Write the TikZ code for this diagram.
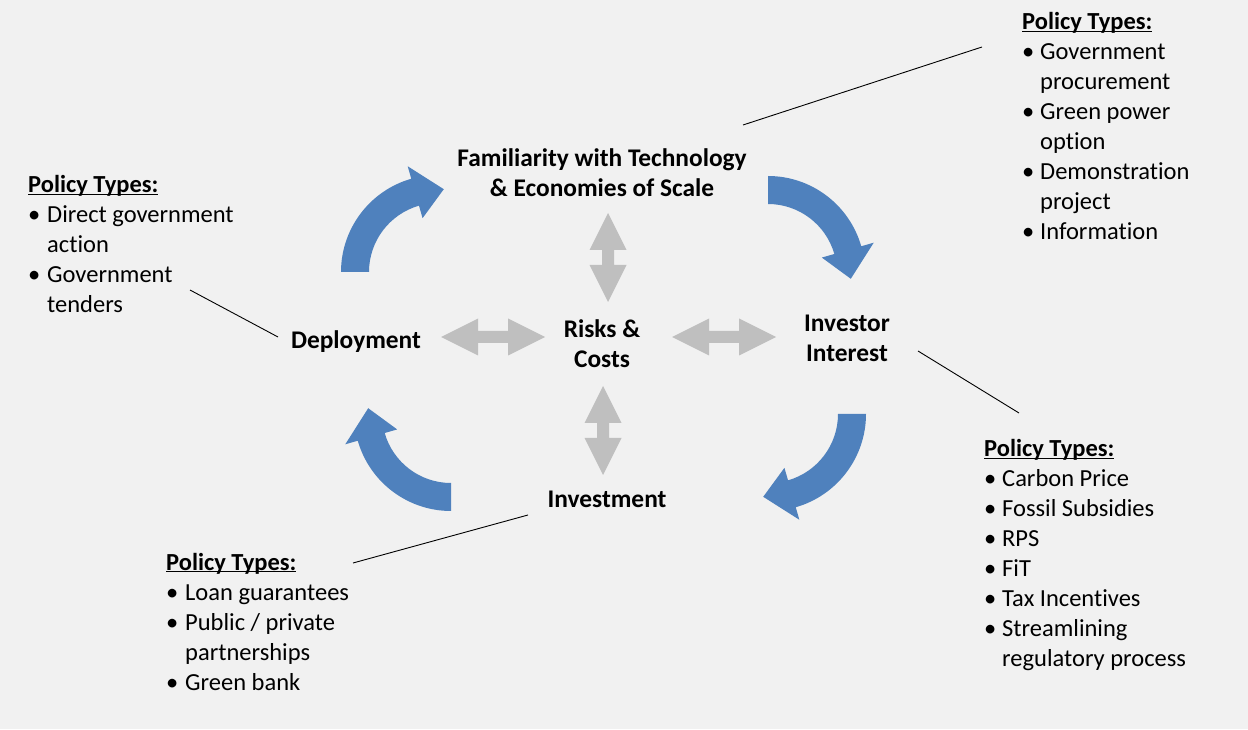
\documentclass[tikz,border=0pt]{standalone}
\usepackage{fontspec}
\setmainfont{Carlito}[Ligatures={NoCommon,NoContextual}]
\usetikzlibrary{positioning}

\definecolor{cycleblue}{HTML}{4F81BD}
\definecolor{riskgray}{HTML}{BFBFBF}
\definecolor{paper}{HTML}{F1F1F1}

\newcommand{\policyhead}{\multicolumn{2}{@{}l@{}}{\bfseries\underline{\smash{Policy Types:}}}}

\tikzset{
  stage/.style={font=\fontsize{25.4}{30}\selectfont\bfseries, align=center, inner sep=0pt, anchor=base},
  policy/.style={inner sep=0pt, anchor=base west},
  link/.style={draw=black, line width=0.9pt},
}

\begin{document}
\begin{tikzpicture}[x=1pt, y=1pt, font=\fontsize{24.5}{30}\selectfont]
  \fill[paper] (0,0) rectangle (1248,729);
  \useasboundingbox (0,0) rectangle (1248,729);

  % stages of the cycle (base = last line)
  \node[stage] (fam)    at (602,532) {Familiarity with Technology\\\& Economies of Scale};
  \node[stage] (deploy) at (356,380) {Deployment};
  \node[stage] (risk)   at (602,361) {Risks \&\\Costs};
  \node[stage] (invint) at (847,367) {Investor\\Interest};
  \node[stage] (invest) at (607,222) {Investment};

  % blue cycle arrows
  \foreach \cx/\cy/\a in {438/457/180, 768/456/90, 769/315/0, 451/315/-90}{
    \pgfmathsetmacro{\b}{\a-74}
    \pgfmathsetmacro{\c}{\a-94}
    \begin{scope}[shift={(\cx,\cy)}]
      \fill[cycleblue] (\a:97) arc[start angle=\a, end angle=\b, radius=97]
        -- (\b:110) -- (\c:83) -- (\b:56) -- (\b:69)
        arc[start angle=\b, end angle=\a, radius=69] -- cycle;
    \end{scope}
  }

  % gray double arrows round the risks
  \foreach \cx/\cy/\rot/\len in {608/471.5/90/44.5, 603/298.5/90/44.5, 493/392/0/52, 724/392/0/52}{
    \begin{scope}[shift={(\cx,\cy)}, rotate=\rot]
      \fill[riskgray] (-\len,0) -- (-\len+37,18.5) -- (-\len+37,6) -- (\len-37,6)
        -- (\len-37,18.5) -- (\len,0) -- (\len-37,-18.5) -- (\len-37,-6)
        -- (-\len+37,-6) -- (-\len+37,-18.5) -- cycle;
    \end{scope}
  }

  % policy lists
  \node[policy] (poltop) at (1022,699) {\begin{tabular}[t]{@{}p{18pt}@{}l@{}}
    \policyhead\\
    \textbullet & Government\\
                & procurement\\
    \textbullet & Green power\\
                & option\\
    \textbullet & Demonstration\\
                & project\\
    \textbullet & Information
  \end{tabular}};
  \node[policy] (polleft) at (28,536) {\begin{tabular}[t]{@{}p{19pt}@{}l@{}}
    \policyhead\\
    \textbullet & Direct government\\
                & action\\
    \textbullet & Government\\
                & tenders
  \end{tabular}};
  \node[policy] (polright) at (984,272) {\begin{tabular}[t]{@{}p{18pt}@{}l@{}}
    \policyhead\\
    \textbullet & Carbon Price\\
    \textbullet & Fossil Subsidies\\
    \textbullet & RPS\\
    \textbullet & FiT\\
    \textbullet & Tax Incentives\\
    \textbullet & Streamlining\\
                & regulatory process
  \end{tabular}};
  \node[policy] (polbottom) at (166,159) {\begin{tabular}[t]{@{}p{19pt}@{}l@{}}
    \policyhead\\
    \textbullet & Loan guarantees\\
    \textbullet & Public / private\\
                & partnerships\\
    \textbullet & Green bank
  \end{tabular}};

  % lines from stages to their policies
  \coordinate (famend)    at (743,604);
  \coordinate (topend)    at (982,682);
  \coordinate (deployend) at (278,392);
  \coordinate (leftend)   at (190,439);
  \coordinate (intend)    at (918,378);
  \coordinate (rightend)  at (1019,316);
  \coordinate (investend) at (528,214);
  \coordinate (bottomend) at (353,166);

  \draw[link] (famend) -- (topend);
  \draw[link] (deployend) -- (leftend);
  \draw[link] (intend) -- (rightend);
  \draw[link] (investend) -- (bottomend);
\end{tikzpicture}
\end{document}
